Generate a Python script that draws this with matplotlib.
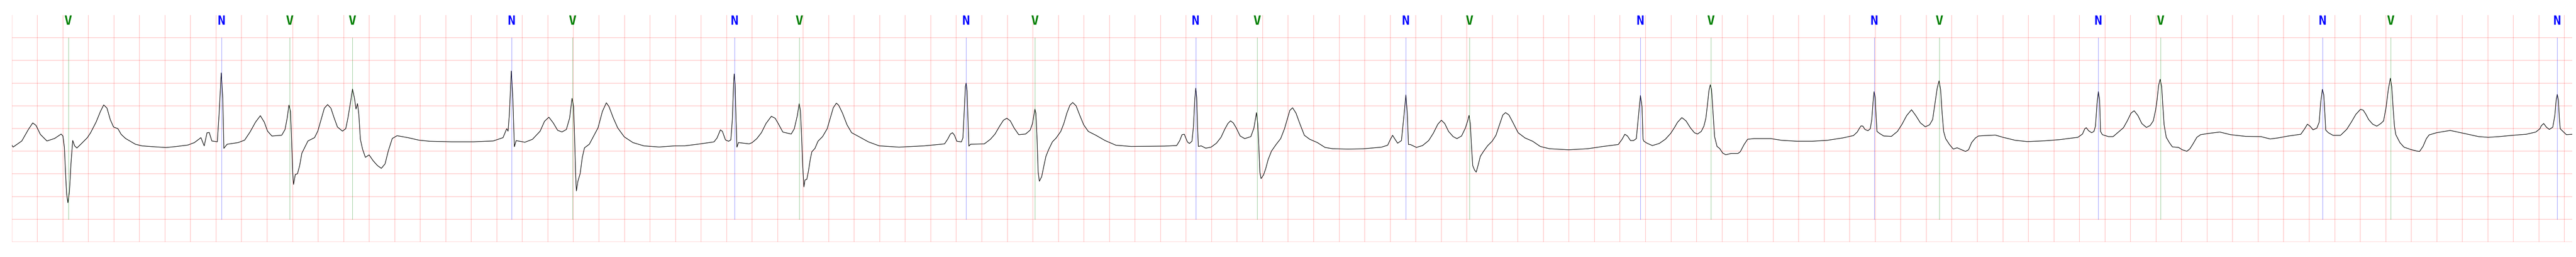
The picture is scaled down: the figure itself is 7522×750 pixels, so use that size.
import numpy as np
import matplotlib
matplotlib.use('Agg')
import matplotlib.pyplot as plt

# 心拍标注 (时间 s)
beat_times = [0.4425, 1.644, 2.178, 2.669, 3.917, 4.393, 5.662, 6.171, 7.477, 8.017,
              9.276, 9.757, 10.922, 11.421, 12.759, 13.312, 14.592, 15.102, 16.347,
              16.836, 18.104, 18.639, 19.944]
beat_labels = ['V', 'N', 'V', 'V', 'N', 'V', 'N', 'V', 'N', 'V', 'N', 'V', 'N', 'V',
               'N', 'V', 'N', 'V', 'N', 'V', 'N', 'V', 'N']
label_colors = {'N': 'blue', 'V': 'green'}

# ECG 波形 (时间 s, 幅值 mV)
ecg_t = [
    0.0, 0.0096, 0.078, 0.1294, 0.1636, 0.1893, 0.2235, 0.2749, 0.3348, 0.3861,
    0.400, 0.4118, 0.4203, 0.4289, 0.4392, 0.4511, 0.4631, 0.4768, 0.4922, 0.5093,
    0.5401, 0.5915, 0.617, 0.660, 0.6941, 0.7198, 0.7455, 0.7712, 0.7968, 0.831,
    0.8567, 0.891, 0.968, 1.0193, 1.1049, 1.2076, 1.2761, 1.3788, 1.4301, 1.4814,
    1.5071, 1.5293, 1.5464, 1.567, 1.6098, 1.6235, 1.6406, 1.6526, 1.6611, 1.6868,
    1.7724, 1.8237, 1.8665, 1.9093, 1.9469, 1.9777, 2.0034, 2.0376, 2.1146, 2.1403,
    2.1574, 2.1711, 2.1831, 2.1917, 2.2002, 2.2071, 2.2208, 2.238, 2.2551, 2.2722,
    2.2944, 2.32, 2.3714, 2.3971, 2.4228, 2.4485, 2.4741, 2.4998, 2.5255, 2.5511,
    2.5904, 2.6161, 2.6332, 2.6554, 2.6691, 2.6845, 2.6965, 2.7085, 2.7188, 2.7307,
    2.7478, 2.7701, 2.7992, 2.83, 2.8642, 2.895, 2.9241, 2.9498, 2.9806, 3.0183,
    3.1038, 3.1894, 3.275, 3.4461, 3.6173, 3.7713, 3.8483, 3.8774, 3.8877, 3.8979,
    3.9133, 3.9253, 3.9373, 3.951, 4.0195, 4.0793, 4.1393, 4.1735, 4.2077, 4.242,
    4.2762, 4.3104, 4.3446, 4.3703, 4.3891, 4.4011, 4.4097, 4.4165, 4.4233, 4.4353,
    4.4525, 4.4696, 4.4867, 4.5244, 4.5586, 4.5926, 4.627, 4.6578, 4.6784, 4.7126,
    4.7468, 4.7982, 4.8666, 4.9522, 5.072, 5.1918,
    5.2738, 5.3936, 5.5014, 5.5254, 5.5517, 5.5673, 5.5913, 5.6152, 5.6332, 5.6452,
    5.6548, 5.6596, 5.6668, 5.674, 5.6811, 5.6931, 5.777, 5.8009, 5.8369, 5.8728,
    5.9088, 5.9507, 5.9806, 6.0046, 6.0405, 6.1064, 6.1304, 6.1543, 6.1687, 6.1783,
    6.1867, 6.1963, 6.2059, 6.2142, 6.2286, 6.2418, 6.2562, 6.2682, 6.2921, 6.3161,
    6.352, 6.388, 6.4119, 6.4359, 6.4599, 6.4778, 6.5078, 6.5437, 6.5797, 6.6276,
    6.7114, 6.7953, 6.951,
    7.1522, 7.3079, 7.3319, 7.3535, 7.3702, 7.3858, 7.4038, 7.4397, 7.4517, 7.4613,
    7.4709, 7.4769, 7.4841, 7.4913, 7.4984, 7.5116, 7.6194, 7.6673, 7.7033, 7.7392,
    7.7692, 7.7955, 7.8231, 7.8531, 7.889, 7.9429, 7.9788, 7.9968, 8.016, 8.0232,
    8.0327, 8.0411, 8.0507, 8.0687, 8.0866, 8.1022, 8.1226, 8.1526, 8.1825, 8.2184,
    8.2424, 8.2664, 8.2903, 8.3118, 8.3382, 8.3682, 8.3981, 8.4341, 8.494, 8.5659,
    8.6497, 8.7695,
    9.0307, 9.1265, 9.1505, 9.1685, 9.1864, 9.2104, 9.226, 9.2463, 9.2583, 9.2679,
    9.2763, 9.2835, 9.2895, 9.2967, 9.3182, 9.3542, 9.3961, 9.438, 9.474, 9.5039,
    9.5279, 9.5482, 9.5698, 9.5938, 9.6237, 9.6597, 9.7076, 9.7316, 9.7519, 9.7615,
    9.7699, 9.7783, 9.7878, 9.807, 9.8238, 9.843, 9.8693, 9.9053, 9.9412, 9.9712,
    9.9891, 10.0131, 10.0346, 10.061, 10.091, 10.1269, 10.1688, 10.2287, 10.2886, 10.3485,
    10.4683, 10.5881, 10.7319, 10.7798, 10.8014, 10.8182, 10.8373, 10.8577, 10.8876, 10.9092,
    10.9224, 10.9332, 10.9427, 10.9571, 11.005, 11.053, 11.1009, 11.1368, 11.1728, 11.2003,
    11.2267, 11.2566, 11.2926, 11.3225, 11.3585, 11.3884, 11.4064, 11.4172, 11.4268, 11.4363,
    11.4459, 11.4603, 11.4735, 11.4903, 11.5058, 11.5322, 11.5621, 11.5981, 11.628, 11.652,
    11.6819, 11.7035, 11.7298, 11.7598, 11.8017, 11.8556, 11.9155, 11.9755, 12.0473, 12.1971,
    12.3468, 12.4666, 12.5864, 12.6164, 12.6379, 12.6583, 12.6823, 12.7063, 12.7278, 12.7422,
    12.7602, 12.7722, 12.7805,
    12.7876, 12.8116, 12.8535, 12.9074, 12.9553, 12.9973, 13.0272, 13.0512, 13.0847, 13.1171,
    13.153, 13.183, 13.2069, 13.2369, 13.2573, 13.2728, 13.2848, 13.2968, 13.3076, 13.3171,
    13.3291, 13.3411, 13.3603, 13.3806, 13.4046, 13.4286, 13.4705, 13.5244, 13.5424, 13.5723,
    13.5999, 13.6502, 13.782, 13.8659, 13.9857, 14.1054, 14.2252, 14.345, 14.4289, 14.4588,
    14.4768, 14.4888, 14.5032, 14.5188, 14.5427, 14.5607, 14.5727, 14.5823, 14.5907, 14.5991,
    14.6062, 14.6134, 14.6326,
    14.6661, 14.726, 14.7739, 14.8099, 14.8458, 14.8841, 14.9177, 14.9536, 14.992, 15.0255,
    15.0495, 15.0674, 15.0854, 15.0998, 15.1118, 15.1238, 15.1357, 15.1513, 15.1813, 15.2112,
    15.2412, 15.2771, 15.307, 15.331, 15.355, 15.3849, 15.4089, 15.4568, 15.5407, 15.6006,
    15.6964, 15.7922, 15.924, 16.0438, 16.1876, 16.2236, 16.2415, 16.2535, 16.2714, 16.2954,
    16.3134, 16.3253, 16.3373, 16.3481, 16.3577, 16.3649, 16.3793, 16.4272, 16.4632, 16.4991,
    16.5445, 16.5745, 16.6044, 16.6284, 16.6583, 16.6883, 16.7242, 16.7542, 16.7781, 16.7961,
    16.808, 16.82, 16.832, 16.844, 16.8536, 16.8632, 16.88, 16.9039, 16.9279, 16.9758,
    17.0058, 17.0417, 17.0657, 17.0896, 17.1196, 17.1495, 17.2154, 17.2993, 17.3831, 17.5029,
    17.6227, 17.6946, 17.7545, 17.8384, 17.9342, 17.9642, 17.9858, 18.0061, 18.0301, 18.06,
    18.078, 18.09, 18.1032, 18.1139, 18.1235, 18.1295, 18.1499, 18.1858, 18.2457, 18.2936,
    18.3296, 18.3655, 18.4015,
    18.4229, 18.4442, 18.4655, 18.4974, 18.5294, 18.5613, 18.5826, 18.6018, 18.6199, 18.6359,
    18.6465, 18.6572, 18.6678, 18.6785, 18.7104, 18.7424, 18.7956, 18.8435, 18.8648, 18.8914,
    18.918, 18.9393, 18.9979, 19.1044, 19.2109, 19.328, 19.4025, 19.4877, 19.5942, 19.7007,
    19.7753, 19.8072, 19.8178, 19.837, 19.8604, 19.8817, 19.9083, 19.9243, 19.935, 19.9435,
    19.952, 19.9605, 19.9669, 19.9882, 20.0148, 20.0627,
]
ecg_mv = [
    -0.365, -0.41, -0.275, -0.022, 0.123, 0.069, -0.13, -0.275, -0.22, -0.123,
    -0.166, -0.419, -0.961, -1.431, -1.637, -1.395, -0.78, -0.264, -0.383, -0.43,
    -0.347, -0.202, -0.094, 0.141, 0.376, 0.52, 0.448, 0.195, 0.033, -0.004,
    -0.13, -0.22, -0.347, -0.383, -0.401, -0.419, -0.401, -0.365, -0.311, -0.202,
    -0.383, -0.094, -0.087, -0.275, -0.293, 0.303, 1.225, 0.665, -0.437, -0.347,
    -0.311, -0.257, -0.076, 0.141, 0.282, 0.141, -0.058, -0.166, -0.148, -0.022,
    0.231, 0.517, 0.376, -0.238, -0.961, -1.232, -1.015, -0.997, -0.816, -0.546,
    -0.419, -0.275, -0.202, -0.058, 0.195, 0.448, 0.527, 0.448, 0.231, 0.033,
    -0.058, -0.004, 0.231, 0.611, 0.871, 0.665, 0.43, 0.549, 0.303, -0.238,
    -0.455, -0.636, -0.582, -0.708, -0.816, -0.878, -0.78, -0.491, -0.22, -0.159,
    -0.202, -0.257, -0.282, -0.293, -0.293, -0.275, -0.202, -0.004, -0.058, 0.303,
    1.268, 0.665, -0.401, -0.267, -0.303, -0.238, -0.058, 0.159, 0.249, 0.123,
    -0.04, -0.076, -0.022, 0.231, 0.665, 0.484, -0.238, -0.961, -1.376, -1.16,
    -0.997, -0.636, -0.426, -0.347, -0.166, 0.014, 0.376, 0.567, 0.484, 0.231,
    0.014, -0.184, -0.311, -0.383, -0.408, -0.383,
    -0.382, -0.339, -0.295, -0.208, -0.029, -0.064, -0.252, -0.281, -0.252, 0.197,
    0.978, 1.204, 0.978, 0.197, -0.411, -0.31, -0.339, -0.31, -0.223, -0.093,
    0.11, 0.269, 0.226, 0.11, -0.078, -0.122, -0.006, 0.284, 0.544, 0.399,
    -0.093, -0.816, -1.288, -1.134, -1.12, -0.932, -0.671, -0.512, -0.44, -0.281,
    -0.179, -0.006, 0.226, 0.457, 0.558, 0.515, 0.341, 0.081, -0.093, -0.165,
    -0.295, -0.382, -0.411,
    -0.382, -0.339, -0.237, -0.122, -0.093, -0.15, -0.281, -0.295, -0.208, 0.341,
    0.92, 1.001, 0.833, 0.197, -0.388, -0.347, -0.339, -0.237, -0.122, 0.052,
    0.182, 0.226, 0.168, 0.009, -0.136, -0.122, -0.035, 0.11, 0.428, 0.341,
    -0.237, -0.961, -1.163, -1.062, -0.816, -0.613, -0.469, -0.295, -0.208, -0.064,
    0.11, 0.341, 0.515, 0.573, 0.501, 0.284, 0.081, -0.064, -0.15, -0.266,
    -0.368, -0.396,
    -0.388, -0.376, -0.266, -0.136, -0.127, -0.295, -0.33, -0.281, 0.052, 0.631,
    0.891, 0.689, 0.052, -0.396, -0.382, -0.434, -0.411, -0.324, -0.194, -0.012,
    0.11, 0.168, 0.124, 0.009, -0.165, -0.223, -0.179, 0.009, 0.35, 0.11,
    -0.382, -0.961, -1.105, -1.024, -0.888, -0.686, -0.498, -0.353, -0.223, -0.006,
    0.168, 0.399, 0.457, 0.341, 0.11, -0.15, -0.237, -0.31, -0.417, -0.446,
    -0.454, -0.448, -0.411, -0.368, -0.237, -0.15, -0.237, -0.324, -0.266, 0.341,
    0.741, 0.341, -0.353, -0.353, -0.417, -0.376, -0.266, -0.107, 0.095, 0.182,
    0.11, -0.064, -0.179, -0.223, -0.165, 0.009, 0.168, 0.289, 0.11, -0.382,
    -0.816, -0.917, -0.961, -0.787, -0.613, -0.498, -0.382, -0.281, -0.15, 0.052,
    0.298, 0.35, 0.298, 0.139, -0.093, -0.208, -0.281, -0.396, -0.446, -0.469,
    -0.446, -0.396, -0.353, -0.237, -0.127, -0.165, -0.266, -0.266, -0.223, 0.197,
    0.729, 0.486, -0.237,
    -0.281, -0.324, -0.376, -0.33, -0.237, -0.107, 0.023, 0.139, 0.24, 0.168,
    0.009, -0.093, -0.122, -0.064, 0.052, 0.226, 0.515, 0.833, 0.964, 0.862,
    0.341, -0.179, -0.396, -0.44, -0.541, -0.579, -0.55, -0.55, -0.512, -0.353,
    -0.237, -0.223, -0.223, -0.26, -0.281, -0.281, -0.26, -0.208, -0.156, -0.078,
    0.009, 0.058, 0.052, -0.02, -0.049, -0.006, 0.197, 0.573, 0.81, 0.689,
    0.284, -0.064, -0.107,
    -0.165, -0.174, -0.064, 0.095, 0.284, 0.414, 0.284, 0.124, 0.038, 0.081,
    0.197, 0.544, 0.891, 1.05, 0.862, 0.341, -0.064, -0.223, -0.353, -0.454,
    -0.425, -0.469, -0.506, -0.469, -0.31, -0.208, -0.165, -0.156, -0.145, -0.194,
    -0.26, -0.289, -0.272, -0.246, -0.194, -0.122, -0.006, 0.017, -0.049, -0.093,
    -0.064, 0.052, 0.544, 0.813, 0.631, -0.064, -0.136, -0.179, -0.179, -0.093,
    0.017, 0.168, 0.341, 0.391, 0.284, 0.11, 0.023, 0.067, 0.168, 0.399,
    0.631, 0.949, 1.085, 0.92, 0.486, 0.081, -0.194, -0.31, -0.405, -0.417,
    -0.469, -0.503, -0.446, -0.339, -0.194, -0.136, -0.107, -0.078, -0.136, -0.174,
    -0.179, -0.231, -0.208, -0.165, -0.127, -0.006, 0.095, 0.052, -0.029, 0.009,
    0.139, 0.573, 0.862, 0.747, 0.284, -0.035, -0.093, -0.15, -0.15, -0.02,
    0.139, 0.312, 0.422,
    0.405, 0.312, 0.197, 0.095, 0.052, 0.11, 0.168, 0.457, 0.862, 1.108,
    0.92, 0.457, 0.052, -0.136, -0.31, -0.411, -0.463, -0.498, -0.506, -0.396,
    -0.223, -0.142, -0.093, -0.043, -0.107, -0.179, -0.194, -0.179, -0.15, -0.127,
    -0.078, -0.006, 0.058, 0.11, 0.023, -0.02, 0.029, 0.284, 0.631, 0.752,
    0.631, 0.197, -0.006, -0.064, -0.136, -0.127,
]

fig = plt.figure(figsize=(75.22, 7.5), dpi=100)
ax = fig.add_axes([0.0046, 0.0587, 0.9939, 0.8826])

ax.plot(ecg_t, ecg_mv, color='black', linewidth=1.2)

# 标注竖线和字母
for t, lab in zip(beat_times, beat_labels):
    c = label_colors[lab]
    ax.plot([t, t], [-2.0, 2.0], color=c, linewidth=0.8, alpha=0.5)
    ax.text(t, 2.5, lab, color=c, fontsize=27, fontweight='bold',
            family='DejaVu Sans Mono', ha='center', va='top')

ax.set_xlim(0, 20.06)
ax.set_ylim(-2.5, 2.5)
# 心电图网格: 0.2 s, 0.5 mV
ax.set_xticks(np.arange(0, 20.05, 0.2))
ax.set_yticks(np.arange(-2.5, 2.49, 0.5))
ax.grid(True, color='red', alpha=0.25, linewidth=1.2)
ax.tick_params(length=0, labelbottom=False, labelleft=False)
for s in ax.spines.values():
    s.set_visible(False)

fig.savefig('out.png', dpi=100)
